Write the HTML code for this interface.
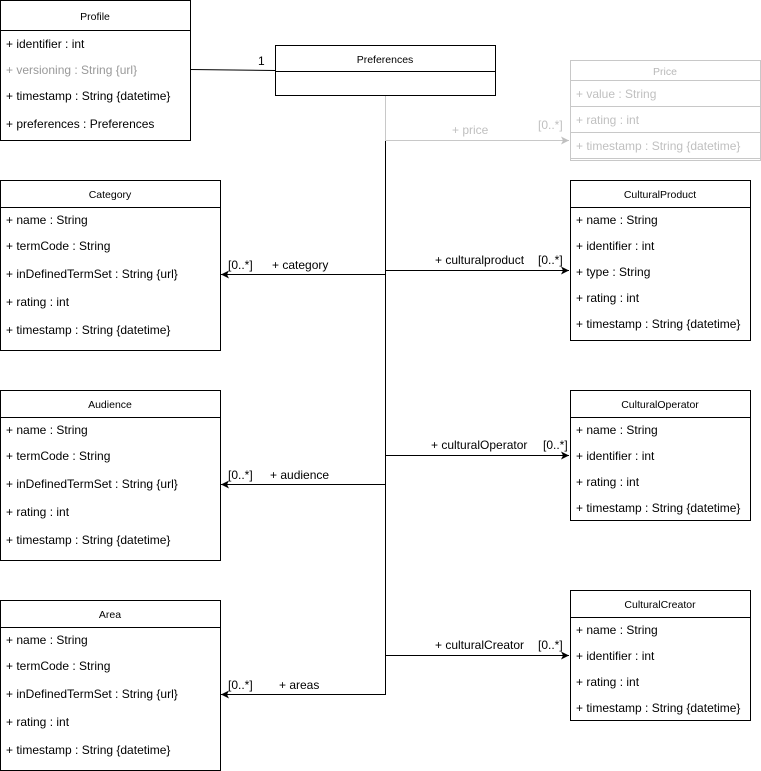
<!DOCTYPE html>
<html><head><style>body{margin:0;background:#fff}svg{display:block}text{font-family:"Liberation Sans",sans-serif;font-size:12px}text.h{font-size:10.5px}</style></head><body>
<svg width="761" height="771" xmlns="http://www.w3.org/2000/svg">
<defs>
<marker id="a" markerWidth="10" markerHeight="10" refX="8" refY="4" orient="auto" markerUnits="userSpaceOnUse"><path d="M0,0 L8,4 L0,8 L2,4 z" fill="#000"/></marker>
<marker id="g" markerWidth="10" markerHeight="10" refX="8" refY="4" orient="auto" markerUnits="userSpaceOnUse"><path d="M0,0 L8,4 L0,8 L2,4 z" fill="#c0c0c0"/></marker>
</defs>
<g fill="none" stroke="#000">
<rect x="0.5" y="0.5" width="190" height="140"/><line x1="0.5" y1="30.5" x2="190.5" y2="30.5"/>
<rect x="275.5" y="45.5" width="220" height="50"/><line x1="275.5" y1="71.5" x2="495.5" y2="71.5"/>
<rect x="0.5" y="180.5" width="220" height="170"/><line x1="0.5" y1="207.5" x2="220.5" y2="207.5"/>
<rect x="0.5" y="390.5" width="220" height="170"/><line x1="0.5" y1="417.5" x2="220.5" y2="417.5"/>
<rect x="0.5" y="600.5" width="220" height="170"/><line x1="0.5" y1="627.5" x2="220.5" y2="627.5"/>
<rect x="570.5" y="180.5" width="180" height="160"/><line x1="570.5" y1="207.5" x2="750.5" y2="207.5"/>
<rect x="570.5" y="390.5" width="180" height="130"/><line x1="570.5" y1="417.5" x2="750.5" y2="417.5"/>
<rect x="570.5" y="590.5" width="180" height="130"/><line x1="570.5" y1="617.5" x2="750.5" y2="617.5"/>
<line x1="190" y1="69.5" x2="275" y2="70.5"/>
<line x1="385.5" y1="140" x2="385.5" y2="695"/>
<line x1="385" y1="274.5" x2="221" y2="274.5" marker-end="url(#a)"/>
<line x1="385" y1="270.5" x2="569" y2="270.5" marker-end="url(#a)"/>
<line x1="385" y1="484.5" x2="221" y2="484.5" marker-end="url(#a)"/>
<line x1="385" y1="455.5" x2="569" y2="455.5" marker-end="url(#a)"/>
<line x1="385" y1="694.5" x2="221" y2="694.5" marker-end="url(#a)"/>
<line x1="385" y1="655.5" x2="569" y2="655.5" marker-end="url(#a)"/>
</g>
<g fill="none" stroke="#c8c8c8">
<rect x="570.5" y="60.5" width="190" height="100"/>
<line x1="570.5" y1="80.5" x2="760.5" y2="80.5"/><line x1="570.5" y1="106.5" x2="760.5" y2="106.5"/><line x1="570.5" y1="132.5" x2="760.5" y2="132.5"/><line x1="570.5" y1="158.5" x2="760.5" y2="158.5"/>
<line x1="385.5" y1="96" x2="385.5" y2="140"/>
<line x1="385" y1="140.5" x2="569" y2="140.5" marker-end="url(#g)"/>
</g>
<g text-anchor="middle">
<text class="h" x="95" y="20">Profile</text><text class="h" x="385" y="63">Preferences</text>
<text class="h" x="110" y="198">Category</text><text class="h" x="110" y="408">Audience</text><text class="h" x="110" y="618">Area</text>
<text class="h" x="660" y="198">CulturalProduct</text><text class="h" x="660" y="408">CulturalOperator</text><text class="h" x="660" y="608">CulturalCreator</text>
<text class="h" x="665" y="75" fill="#b8b8b8">Price</text>
</g>
<g>
<text x="6" y="48">+ identifier : int</text><text x="6" y="74" fill="#999">+ versioning : String {url}</text><text x="6" y="100">+ timestamp : String {datetime}</text><text x="6" y="128">+ preferences : Preferences</text>
<text x="6" y="224">+ name : String</text><text x="6" y="250">+ termCode : String</text><text x="6" y="278">+ inDefinedTermSet : String {url}</text><text x="6" y="306">+ rating : int</text><text x="6" y="334">+ timestamp : String {datetime}</text>
<text x="6" y="434">+ name : String</text><text x="6" y="460">+ termCode : String</text><text x="6" y="488">+ inDefinedTermSet : String {url}</text><text x="6" y="516">+ rating : int</text><text x="6" y="544">+ timestamp : String {datetime}</text>
<text x="6" y="644">+ name : String</text><text x="6" y="670">+ termCode : String</text><text x="6" y="698">+ inDefinedTermSet : String {url}</text><text x="6" y="726">+ rating : int</text><text x="6" y="754">+ timestamp : String {datetime}</text>
<text x="576" y="224">+ name : String</text><text x="576" y="250">+ identifier : int</text><text x="576" y="276">+ type : String</text><text x="576" y="302">+ rating : int</text><text x="576" y="328">+ timestamp : String {datetime}</text>
<text x="576" y="434">+ name : String</text><text x="576" y="460">+ identifier : int</text><text x="576" y="486">+ rating : int</text><text x="576" y="512">+ timestamp : String {datetime}</text>
<text x="576" y="634">+ name : String</text><text x="576" y="660">+ identifier : int</text><text x="576" y="686">+ rating : int</text><text x="576" y="712">+ timestamp : String {datetime}</text>
<g fill="#c0c0c0"><text x="576" y="98">+ value : String</text><text x="576" y="124">+ rating : int</text><text x="576" y="150">+ timestamp : String {datetime}</text>
<text x="452" y="134">+ price</text><text x="538" y="129">[0..*]</text></g>
<text x="258" y="65">1</text>
<text x="228" y="269">[0..*]</text><text x="272" y="269">+ category</text>
<text x="435" y="264">+ culturalproduct</text><text x="538" y="264">[0..*]</text>
<text x="228" y="479">[0..*]</text><text x="270" y="479">+ audience</text>
<text x="431" y="449">+ culturalOperator</text><text x="543" y="449">[0..*]</text>
<text x="228" y="689">[0..*]</text><text x="279" y="689">+ areas</text>
<text x="435" y="649">+ culturalCreator</text><text x="538" y="649">[0..*]</text>
</g>
</svg>
</body></html>
